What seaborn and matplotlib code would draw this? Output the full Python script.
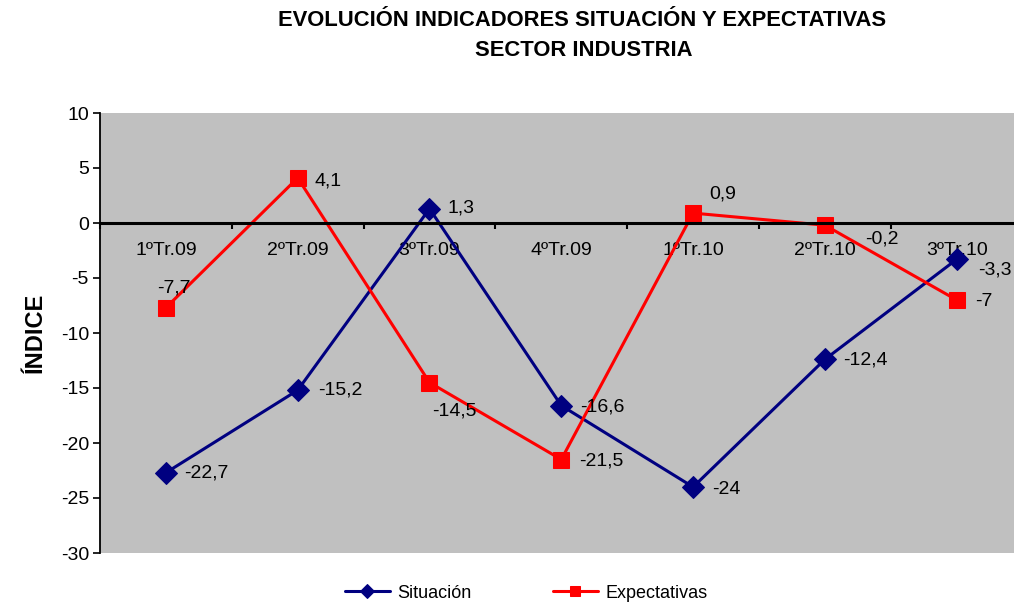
import pandas as pd
import seaborn as sns
from matplotlib import pyplot as plt
from matplotlib.ticker import FixedLocator

quarters = ["1ºTr.09", "2ºTr.09", "3ºTr.09", "4ºTr.09", "1ºTr.10", "2ºTr.10", "3ºTr.10"]
situacion = [-22.7, -15.2, 1.3, -16.6, -24.0, -12.4, -3.3]
expectativas = [-7.7, 4.1, -14.5, -21.5, 0.9, -0.2, -7.0]
situacion_labels = ["-22,7", "-15,2", "1,3", "-16,6", "-24", "-12,4", "-3,3"]
expectativas_labels = ["-7,7", "4,1", "-14,5", "-21,5", "0,9", "-0,2", "-7"]

# label offsets in pixels (dx, dy up, ha)
sit_offsets = [(18, 0, "left"), (20, 0, "left"), (18, 1, "left"), (19, -1, "left"),
               (19, -2, "left"), (18, -1, "left"), (21, -11, "left")]
exp_offsets = [(8, 20, "center"), (17, -3, "left"), (25, -29, "center"), (18, -2, "left"),
               (30, 19, "center"), (40, -14, "left"), (18, -2, "left")]

NAVY = "#000080"
RED = "#FF0000"

sns.set_style("white")
plt.rcParams["font.family"] = ["Liberation Sans", "DejaVu Sans"]
plt.rcParams["axes.unicode_minus"] = False
plt.rcParams["text.color"] = "black"
plt.rcParams["axes.labelcolor"] = "black"
plt.rcParams["xtick.color"] = "black"
plt.rcParams["ytick.color"] = "black"

df = pd.DataFrame({"trimestre": quarters, "Situación": situacion, "Expectativas": expectativas})

fig = plt.figure(figsize=(10.14, 6.08), dpi=100)
ax = fig.add_axes([100 / 1014, 55 / 608, 922.6 / 1014, 440 / 608])
ax.set_facecolor("#C0C0C0")

sns.lineplot(data=df, x="trimestre", y="Situación", ax=ax, color=NAVY, marker="D", markersize=11.5,
             markeredgecolor=NAVY, linewidth=2.2, sort=False, label="Situación")
sns.lineplot(data=df, x="trimestre", y="Expectativas", ax=ax, color=RED, marker="s", markersize=11.5,
             markeredgecolor=RED, linewidth=2.2, sort=False, label="Expectativas")

for i, (v, t) in enumerate(zip(situacion, situacion_labels)):
    dx, dy, ha = sit_offsets[i]
    ax.annotate(t, (i, v), xytext=(dx * 0.72, dy * 0.72), textcoords="offset points",
                ha=ha, va="center", fontsize=14, color="black")
for i, (v, t) in enumerate(zip(expectativas, expectativas_labels)):
    dx, dy, ha = exp_offsets[i]
    ax.annotate(t, (i, v), xytext=(dx * 0.72, dy * 0.72), textcoords="offset points",
                ha=ha, va="center", fontsize=14, color="black")

ax.set_xlim(-0.5, 6.5)
ax.set_ylim(-30, 10)
ax.set_yticks(range(-30, 11, 5))
ax.tick_params(axis="y", labelsize=14, length=5, width=1.2, direction="out", pad=3, left=True)

ax.spines["top"].set_visible(False)
ax.spines["right"].set_visible(False)
ax.spines["left"].set_color("black")
ax.spines["left"].set_linewidth(1.3)
ax.spines["bottom"].set_position(("data", 0))
ax.spines["bottom"].set_color("black")
ax.spines["bottom"].set_linewidth(2.2)

ax.set_xticks(range(len(quarters)))
ax.set_xticklabels(quarters)
ax.xaxis.set_minor_locator(FixedLocator([i + 0.5 for i in range(-1, 7)]))
ax.tick_params(axis="x", which="major", length=0, labelsize=14, pad=14, bottom=True)
ax.tick_params(axis="x", which="minor", length=4, width=1.5, direction="out", bottom=True)

ax.set_xlabel("")
ax.set_ylabel("ÍNDICE", fontsize=17, fontweight="bold", labelpad=10)

handles, labels = ax.get_legend_handles_labels()
ax.get_legend().remove()
fig.legend(handles, labels, loc="center", bbox_to_anchor=(526 / 1014, 15 / 608), ncol=2,
           frameon=False, fontsize=13, handlelength=2.5, columnspacing=4.5, handletextpad=0.4,
           markerscale=0.65)

fig.text(582 / 1014, 1 - 20 / 608, "EVOLUCIÓN INDICADORES SITUACIÓN Y EXPECTATIVAS",
         ha="center", va="center", fontsize=15.8, fontweight="bold")
fig.text(584 / 1014, 1 - 50 / 608, "SECTOR INDUSTRIA",
         ha="center", va="center", fontsize=15.8, fontweight="bold")

fig.savefig("out.png", dpi=100)
